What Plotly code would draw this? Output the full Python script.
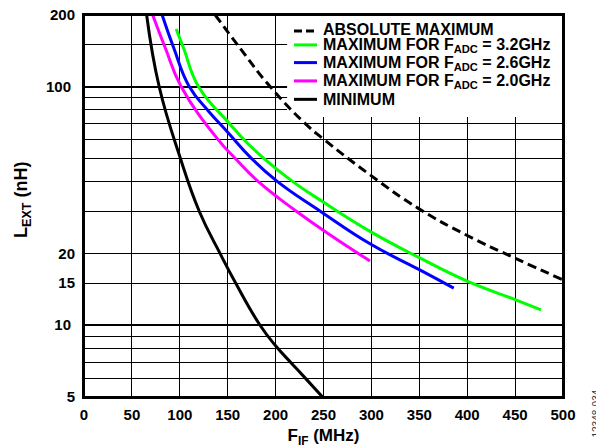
import plotly.graph_objects as go

# ---- data ----
abs_max_f = [137, 163, 194.4, 231, 249, 299, 349, 399, 450, 500]
abs_max_l = [200, 145, 100, 70, 60.8, 42.6, 30.9, 23.9, 19.1, 15.5]

max32_f = [96.2, 104, 119.6, 152, 167, 188, 218, 249, 299, 350, 400, 450, 477]
max32_l = [174.7, 145, 100, 70, 60, 50, 40, 33, 24.7, 19.2, 15.3, 12.8, 11.6]

max26_f = [81.6, 93.8, 110, 130, 150, 175, 202, 247, 299, 350, 386]
max26_l = [200, 145, 100, 79, 64.5, 50, 40, 30, 21.9, 17.1, 14.3]

max20_f = [71.7, 85, 101.5, 140, 158, 182, 222, 257, 298.5]
max20_l = [200, 145, 100, 60, 50, 40, 30, 23.9, 18.6]

min_f = [65.4, 78.5, 100, 120.4, 142, 158.4, 183.8, 200, 217, 231, 249]
min_l = [200, 100, 51, 30, 20, 15, 10, 8.2, 6.9, 6, 5]

x_ticks = [0, 50, 100, 150, 200, 250, 300, 350, 400, 450, 500]
y_ticks_thick = [10, 100]
y_ticks_thin = [5, 15, 20, 200]
y_minor_grid = [6, 7, 8, 9, 15, 20, 30, 40, 50, 60, 70, 80, 90, 150]

names = [
    "ABSOLUTE MAXIMUM",
    "MAXIMUM FOR F<sub>ADC</sub> = 3.2GHz",
    "MAXIMUM FOR F<sub>ADC</sub> = 2.6GHz",
    "MAXIMUM FOR F<sub>ADC</sub> = 2.0GHz",
    "MINIMUM",
]
colors = ["#000000", "#00FF00", "#0000FF", "#FF00FF", "#000000"]
dashes = ["9px,5px", "solid", "solid", "solid", "solid"]

FONT = "Liberation Sans, Arial, sans-serif"
X_RANGE = [0, 500]
Y_RANGE_LOG = [0.69897, 2.30103]

fig = go.Figure()
series = [(abs_max_f, abs_max_l), (max32_f, max32_l), (max26_f, max26_l),
          (max20_f, max20_l), (min_f, min_l)]
for (fx, ly), nm, col, dash in zip(series, names, colors, dashes):
    fig.add_trace(go.Scatter(
        x=fx, y=ly, mode="lines", name=nm, showlegend=False,
        line=dict(color=col, width=3, dash=dash, shape="spline", smoothing=1.3),
    ))

# legend box: white panel above the grid, below the curves
fig.add_shape(type="rect", xref="x", yref="y",
              x0=212, x1=X_RANGE[1], y0=74.6, y1=200,
              fillcolor="white", line=dict(width=0), layer="between")

leg_line_y = [0.9581, 0.9217, 0.8754, 0.8274, 0.7792]
leg_text_y = [0.9611, 0.9194, 0.8731, 0.8251, 0.7792]
for nm, col, dash, ly, ty in zip(names, colors, dashes, leg_line_y, leg_text_y):
    fig.add_shape(type="line", xref="paper", yref="paper",
                  x0=0.4384, x1=0.4864, y0=ly, y1=ly,
                  line=dict(color=col, width=3, dash=dash if dash == "solid" else "8px,4px"),
                  layer="above")
    fig.add_annotation(text=nm, xref="paper", yref="paper", x=0.4955, y=ty,
                       xanchor="left", yanchor="middle", showarrow=False,
                       font=dict(family=FONT, size=16, color="black", weight="bold"))

# plot frame
fig.add_shape(type="rect", xref="paper", yref="paper", x0=0, x1=1, y0=0, y1=1,
              line=dict(color="black", width=2), fillcolor="rgba(0,0,0,0)",
              layer="above")

fig.update_layout(
    width=596, height=440,
    margin=dict(l=76, r=41, t=7, b=51, autoexpand=False),
    paper_bgcolor="white", plot_bgcolor="white",
    font=dict(family=FONT, size=14, color="black"),
    showlegend=False,
    xaxis=dict(
        range=X_RANGE, tickvals=x_ticks, ticktext=[str(v) for v in x_ticks],
        showgrid=True, gridcolor="black", gridwidth=1, automargin=False,
        showline=True, linecolor="black", linewidth=2, mirror=True,
        ticks="", zeroline=False, ticklabelstandoff=3, ticklabeloverflow="allow",
        tickfont=dict(family=FONT, size=15, weight="bold"),
        title=dict(text="F<sub>IF</sub> (MHz)", standoff=8,
                   font=dict(family=FONT, size=17, weight="bold")),
    ),
    yaxis=dict(
        type="log", range=Y_RANGE_LOG, automargin=False,
        tickvals=y_ticks_thick, ticktext=[str(v) for v in y_ticks_thick],
        showgrid=True, gridcolor="black", gridwidth=2,
        minor=dict(tickvals=y_minor_grid, showgrid=True, gridcolor="black",
                   gridwidth=1, ticks=""),
        showline=True, linecolor="black", linewidth=2, mirror=True,
        ticks="", zeroline=False, ticklabelstandoff=8, ticklabeloverflow="allow",
        tickfont=dict(family=FONT, size=15, weight="bold"),
    ),
    yaxis2=dict(
        type="log", range=Y_RANGE_LOG, overlaying="y", side="left",
        automargin=False, ticklabeloverflow="allow",
        tickvals=y_ticks_thin, ticktext=[str(v) for v in y_ticks_thin],
        showgrid=False, showline=False, zeroline=False, ticks="",
        ticklabelstandoff=8,
        tickfont=dict(family=FONT, size=15, weight="bold"),
    ),
)

# helper so the label axis is drawn
fig.add_trace(go.Scatter(x=[None], y=[None], yaxis="y2", showlegend=False,
                         hoverinfo="skip"))

# y-axis title
fig.add_annotation(
    text="L<sub>EXT</sub> (nH)", xref="paper", yref="paper", x=-0.1294, y=0.5157,
    showarrow=False, textangle=-90, xanchor="center", yanchor="middle",
    font=dict(family=FONT, size=18, color="black", weight="bold"),
)

fig.add_annotation(
    text="12348-034", xref="paper", yref="paper", x=1.070, y=-0.0445,
    showarrow=False, textangle=-90, xanchor="center", yanchor="middle",
    borderpad=0,
    font=dict(family=FONT, size=10, color="#333333"),
)

fig.write_html("out.html")
